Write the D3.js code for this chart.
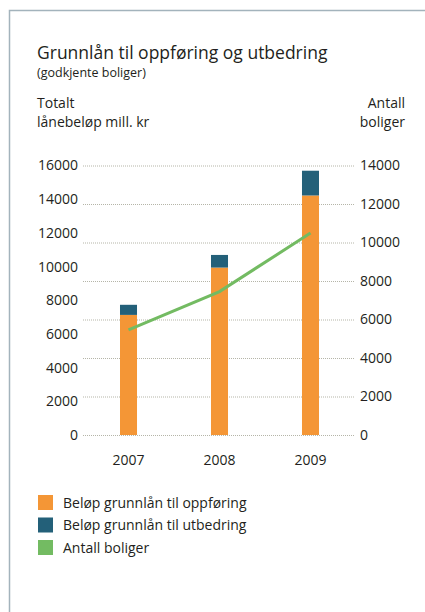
<!DOCTYPE html>
<meta charset="utf-8">
<style>
body { margin: 0; background: #fff; }
text { font-family: "Open Sans", sans-serif; fill: #231f20; }
.grid path { stroke-width: 0; }
.axis path, .axis line { display: none; }
</style>
<body>
<script src="https://d3js.org/d3.v7.min.js"></script>
<script>

var years = ["2007", "2008", "2009"]
var oppforing = [7130, 9940, 14220]
var utbedring = [600, 750, 1470]
var antall = [5460, 7450, 10490]
var leftTicks = [0, 2000, 4000, 6000, 8000, 10000, 12000, 14000, 16000]
var rightTicks = [0, 2000, 4000, 6000, 8000, 10000, 12000, 14000]
var legendLabels = ["Beløp grunnlån til oppføring", "Beløp grunnlån til utbedring", "Antall boliger"]
var colors = ["#f49636", "#236079", "#73bb62"]

var width = 425, height = 612

var svg = d3.select("body").append("svg")
    .attr("width", width)
    .attr("height", height)

// frame
svg.append("path")
    .attr("d", "M9.5,612 V10.5 H425")
    .attr("fill", "none")
    .attr("stroke", "#a3b3bc")
    .attr("stroke-width", 1.5)

svg.append("text").attr("x", 37).attr("y", 59)
    .style("font-size", "17.5px").text("Grunnlån til oppføring og utbedring")
svg.append("text").attr("x", 37).attr("y", 76.5)
    .style("font-size", "12.5px").text("(godkjente boliger)")

svg.append("text").attr("x", 37).attr("y", 108)
    .style("font-size", "14px").text("Totalt")
svg.append("text").attr("x", 37).attr("y", 127)
    .style("font-size", "14px").text("lånebeløp mill. kr")
svg.append("text").attr("x", 405).attr("y", 108).attr("text-anchor", "end")
    .style("font-size", "14px").text("Antall")
svg.append("text").attr("x", 405).attr("y", 127).attr("text-anchor", "end")
    .style("font-size", "14px").text("boliger")

var x = d3.scaleBand()
    .domain(years)
    .range([74.5, 364.5])
    .paddingInner(0.813)
    .paddingOuter(0.5)

var yL = d3.scaleLinear().domain([0, 16000]).range([435, 165.5])
var yR = d3.scaleLinear().domain([0, 14000]).range([435, 165.5])

// gridlines from right scale
svg.append("g")
    .attr("class", "grid")
    .attr("transform", "translate(83,0)")
    .call(d3.axisLeft(yR).tickValues(rightTicks).tickSize(-272).tickFormat(""))
    .selectAll("line").attr("stroke", "#b5b5a8").attr("stroke-dasharray", "1,1")

svg.append("g")
    .attr("class", "axis")
    .attr("transform", "translate(78,0)")
    .call(d3.axisLeft(yL).tickValues(leftTicks).tickSize(0).tickPadding(0).tickFormat(d3.format("d")))
    .selectAll("text").style("font-size", "14px").attr("fill", "#231f20")

svg.append("g")
    .attr("class", "axis")
    .attr("transform", "translate(360,0)")
    .call(d3.axisRight(yR).tickValues(rightTicks).tickSize(0).tickPadding(0).tickFormat(d3.format("d")))
    .selectAll("text").style("font-size", "14px").attr("fill", "#231f20")

svg.append("g")
    .attr("class", "axis")
    .attr("transform", "translate(0,447)")
    .call(d3.axisBottom(x).tickSize(0).tickPadding(8))
    .selectAll("text").style("font-size", "14px").attr("fill", "#231f20")

// stacked bars
var bars = svg.append("g")
bars.selectAll(".opp")
    .data(years)
    .enter().append("rect")
    .attr("x", function(d) { return x(d) })
    .attr("width", x.bandwidth())
    .attr("y", function(d, i) { return yL(oppforing[i]) })
    .attr("height", function(d, i) { return yL(0) - yL(oppforing[i]) })
    .attr("fill", colors[0])

bars.selectAll(".utb")
    .data(years)
    .enter().append("rect")
    .attr("x", function(d) { return x(d) })
    .attr("width", x.bandwidth())
    .attr("y", function(d, i) { return yL(oppforing[i] + utbedring[i]) })
    .attr("height", function(d, i) { return yL(oppforing[i]) - yL(oppforing[i] + utbedring[i]) })
    .attr("fill", colors[1])

var line = d3.line()
    .x(function(d, i) { return x(years[i]) + x.bandwidth() / 2 })
    .y(function(d) { return yR(d) })

svg.append("path")
    .datum(antall)
    .attr("d", line)
    .attr("fill", "none")
    .attr("stroke", colors[2])
    .attr("stroke-width", 3)

// legend
var legend = svg.selectAll(".legend")
    .data(legendLabels)
    .enter().append("g")
    .attr("transform", function(d, i) { return "translate(38," + (495 + i * 22.5) + ")" })

legend.append("rect")
    .attr("width", 15).attr("height", 15)
    .attr("fill", function(d, i) { return colors[i] })

legend.append("text")
    .attr("x", 25).attr("y", 12.5)
    .style("font-size", "14px")
    .text(function(d) { return d })

</script>
